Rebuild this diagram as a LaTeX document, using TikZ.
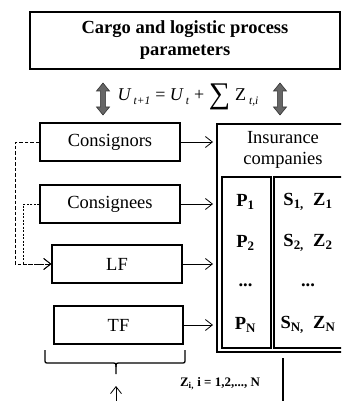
\documentclass[tikz,border=0pt]{standalone}
\usepackage{fontspec}
\setmainfont{Liberation Serif}
\usetikzlibrary{arrows.meta}
\begin{document}
\begin{tikzpicture}[x=1pt,y=-1pt,
  box/.style={draw,line width=1.3pt,minimum height=38pt,inner sep=0pt,font=\fontsize{18.5}{22}\selectfont},
  tbox/.style={draw,line width=1.6pt,inner sep=0pt},
  conn/.style={line width=0.8pt,-{Straight Barb[length=7pt,width=11pt]}},
  dconnA/.style={line width=0.8pt,dash pattern=on 3.5pt off 2pt,-{Straight Barb[length=7pt,width=11pt]}},
  dconnB/.style={line width=0.8pt,dash pattern=on 2pt off 1.5pt,-{Straight Barb[length=7pt,width=11pt]}},
  cell/.style={font=\bfseries\fontsize{18.5}{22}\selectfont,inner sep=0pt},
  dbl/.style={fill=black!60,draw=black!80,line width=0.6pt},
  brace/.style={line width=1.3pt}
]
\useasboundingbox (0,0) rectangle (341,401);
\clip (0,0) rectangle (341,401);
% title
\node[draw,line width=1.5pt,minimum width=310pt,minimum height=57pt,align=center,inner sep=0pt,
  font=\bfseries\fontsize{18.5}{22}\selectfont] (title) at (185,40.5) {Cargo and logistic process\\parameters};
% formula
\node[anchor=base,inner sep=0pt,font=\fontsize{18}{22}\selectfont] (formula) at (188,100)
 {\itshape U\hspace{3pt}\raisebox{-5pt}{\fontsize{11.5}{12}\selectfont t+1}\hspace{5pt}\upshape= \itshape U\hspace{3pt}\raisebox{-5pt}{\fontsize{11.5}{12}\selectfont t}\hspace{5pt}\upshape+ \raisebox{-3pt}{\fontsize{30}{30}\selectfont ∑}\hspace{5pt}Z\hspace{3pt}\raisebox{-5pt}{\fontsize{11.5}{12}\selectfont\itshape t,i}};
\foreach \cx in {103,280}{
  \fill[dbl] (\cx,83) -- (\cx+6.5,91) -- (\cx+2.6,91) -- (\cx+2.6,107) -- (\cx+6.5,107) -- (\cx,115) -- (\cx-6.5,107) -- (\cx-2.6,107) -- (\cx-2.6,91) -- (\cx-6.5,91) -- cycle;
}
% left boxes
\node[box,minimum width=140pt] (cons) at (110,142) {Consignors};
\node[box,minimum width=140pt] (cgee) at (110,204) {Consignees};
\node[box,minimum width=130pt] (lf) at (117,264) {LF};
\node[box,minimum width=129pt] (tf) at (118.5,325) {TF};
% insurance companies
\node[tbox,anchor=north west,minimum width=135pt,minimum height=228pt] (ins) at (216,123) {};
\node[align=center,inner sep=0pt,font=\fontsize{18.5}{21}\selectfont] (instext) at (283,150) {Insurance\\companies};
\node[tbox,anchor=north west,minimum width=49pt,minimum height=171pt] (pcol) at (221,176) {};
\node[tbox,anchor=north west,minimum width=80pt,minimum height=171pt] (scol) at (273,176) {};
\node[cell] (p1) at (245.5,202) {P\textsubscript{1}};
\node[cell] (p2) at (245.5,243) {P\textsubscript{2}};
\node[cell] (p3) at (245.5,285) {...};
\node[cell] (pn) at (245.5,325) {P\textsubscript{N}};
\node[cell] (s1) at (308,202) {S\textsubscript{1,}\ \ Z\textsubscript{1}};
\node[cell] (s2) at (308,243) {S\textsubscript{2,}\ \ Z\textsubscript{2}};
\node[cell] (s3) at (308,285) {...};
\node[cell] (sn) at (308,325) {S\textsubscript{N,}\ \ Z\textsubscript{N}};
% arrows to insurance
\draw[conn,shorten >=3pt] (cons.east) -- (cons.east -| ins.west);
\draw[conn,shorten >=3pt] (cgee.east) -- (cgee.east -| ins.west);
\draw[conn,shorten >=3pt] (lf.east) -- (lf.east -| ins.west);
\draw[conn,shorten >=3pt] (tf.east) -- (tf.east -| ins.west);
% dashed feedback
\draw[dconnA] (cons.west) -- ++(-24,0) |- (lf.west);
\draw[dconnB] (cgee.west) -- ++(-16,0) |- (lf.west);
% brace
\draw[brace] (45,350) -- (45,359) .. controls (45,363) .. (49,363) -- (111,363) .. controls (116,363) .. (116,367) -- (116,374);
\draw[brace] (185,350) -- (185,359) .. controls (185,363) .. (181,363) -- (121,363) .. controls (116,363) .. (116,367);
\coordinate (bot) at (116,401);
\coordinate (btip) at (116,386);
\draw[conn] (bot) -- (btip);
% bottom label and line
\node[inner sep=0pt,font=\bfseries\fontsize{13}{15}\selectfont] (zi) at (220,384) {Z\textsubscript{i,} i = 1,2,..., N};
\coordinate (vl1) at (283,358);
\coordinate (vl2) at (283,401);
\draw[line width=1.3pt] (vl1) -- (vl2);
\end{tikzpicture}
\end{document}
